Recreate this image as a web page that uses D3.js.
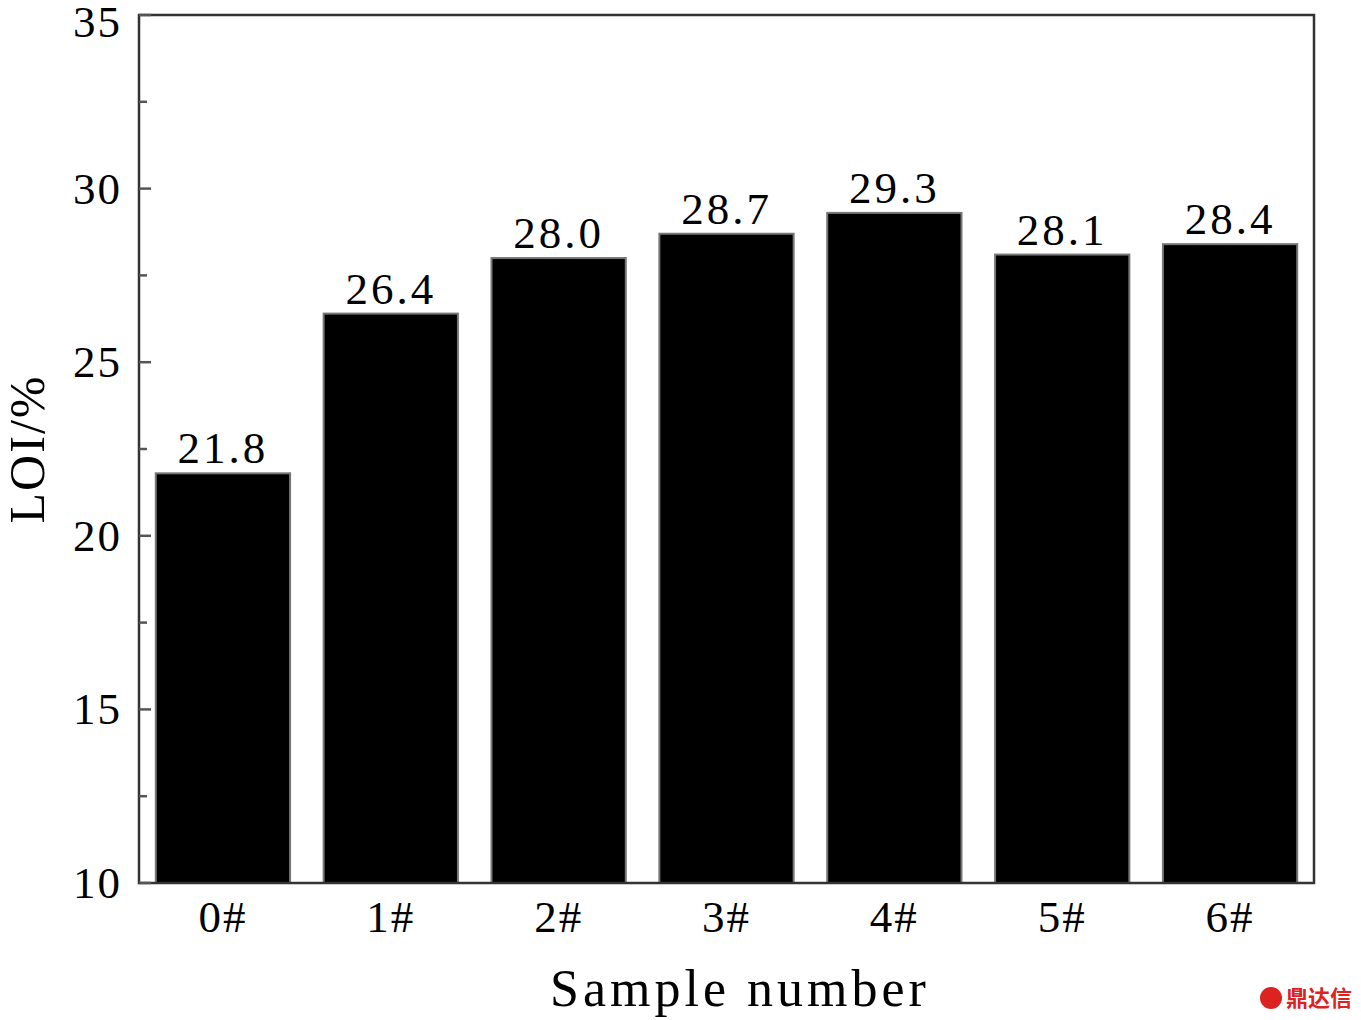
<!DOCTYPE html>
<html>
<head>
<meta charset="utf-8">
<script src="https://cdn.jsdelivr.net/npm/d3@7"></script>
<style>
  body { margin: 0; background: #fff; }
  text { font-family: "Liberation Serif", "DejaVu Serif", serif; }
</style>
</head>
<body>
<svg id="chart" width="1361" height="1020"></svg>
<script>
const samples = ["0#", "1#", "2#", "3#", "4#", "5#", "6#"];
const loiValues = [21.8, 26.4, 28.0, 28.7, 29.3, 28.1, 28.4];
const yTicks = [10, 15, 20, 25, 30, 35];
const yMinorTicks = [12.5, 17.5, 22.5, 27.5, 32.5];

const margin = { left: 139, right: 47, top: 15, bottom: 137 };
const width = 1361, height = 1020;
const svg = d3.select("#chart");

const x = d3.scaleBand()
  .domain(samples)
  .range([margin.left, width - margin.right])
  .paddingInner(0.2)
  .paddingOuter(0.1);

const y = d3.scaleLinear()
  .domain([10, 35])
  .range([height - margin.bottom, margin.top]);

// bars, with a light grey rim like the scanned figure
svg.selectAll(".bar")
  .data(loiValues)
  .join("rect")
  .attr("class", "bar")
  .attr("x", (d, i) => x(samples[i]))
  .attr("y", d => y(d))
  .attr("width", x.bandwidth())
  .attr("height", d => y(10) - y(d))
  .attr("fill", "#000")
  .attr("stroke", "#777")
  .attr("stroke-width", 2);

// value labels
svg.selectAll(".val")
  .data(loiValues)
  .join("text")
  .attr("class", "val")
  .attr("x", (d, i) => x(samples[i]) + x.bandwidth() / 2)
  .attr("y", d => y(d) - 10)
  .attr("text-anchor", "middle")
  .attr("font-size", 45)
  .attr("letter-spacing", 3)
  .text(d => d.toFixed(1));

// frame
svg.append("rect")
  .attr("x", margin.left)
  .attr("y", margin.top)
  .attr("width", width - margin.left - margin.right)
  .attr("height", height - margin.top - margin.bottom)
  .attr("fill", "none")
  .attr("stroke", "#333")
  .attr("stroke-width", 2.5);

// y ticks
svg.selectAll(".ytick")
  .data(yTicks.concat(yMinorTicks))
  .join("line")
  .attr("x1", margin.left)
  .attr("x2", d => margin.left + (yTicks.includes(d) ? 12 : 8))
  .attr("y1", d => y(d))
  .attr("y2", d => y(d))
  .attr("stroke", "#555")
  .attr("stroke-width", 2.5);

svg.selectAll(".ylab")
  .data(yTicks)
  .join("text")
  .attr("x", 122)
  .attr("y", d => Math.max(y(d) + 15, 37))
  .attr("text-anchor", "end")
  .attr("font-size", 45)
  .attr("letter-spacing", 2)
  .text(d => d);

// x tick labels
svg.selectAll(".xlab")
  .data(samples)
  .join("text")
  .attr("x", d => x(d) + x.bandwidth() / 2)
  .attr("y", 932)
  .attr("text-anchor", "middle")
  .attr("font-size", 45)
  .attr("letter-spacing", 2)
  .text(d => d);

// axis titles
svg.append("text")
  .attr("x", 740)
  .attr("y", 1006)
  .attr("text-anchor", "middle")
  .attr("font-size", 52)
  .attr("letter-spacing", 4)
  .text("Sample number");

svg.append("text")
  .attr("transform", "translate(44,449) rotate(-90)")
  .attr("text-anchor", "middle")
  .attr("font-size", 50)
  .attr("letter-spacing", 2)
  .text("LOI/%");

// watermark
svg.append("circle")
  .attr("cx", 1271).attr("cy", 998).attr("r", 11)
  .attr("fill", "#d22");
svg.append("text")
  .attr("x", 1352)
  .attr("y", 1006)
  .attr("text-anchor", "end")
  .attr("font-size", 22)
  .attr("font-weight", "bold")
  .attr("fill", "#d22")
  .style("font-family", "'Noto Sans CJK SC', sans-serif")
  .text("鼎达信");
</script>
</body>
</html>
